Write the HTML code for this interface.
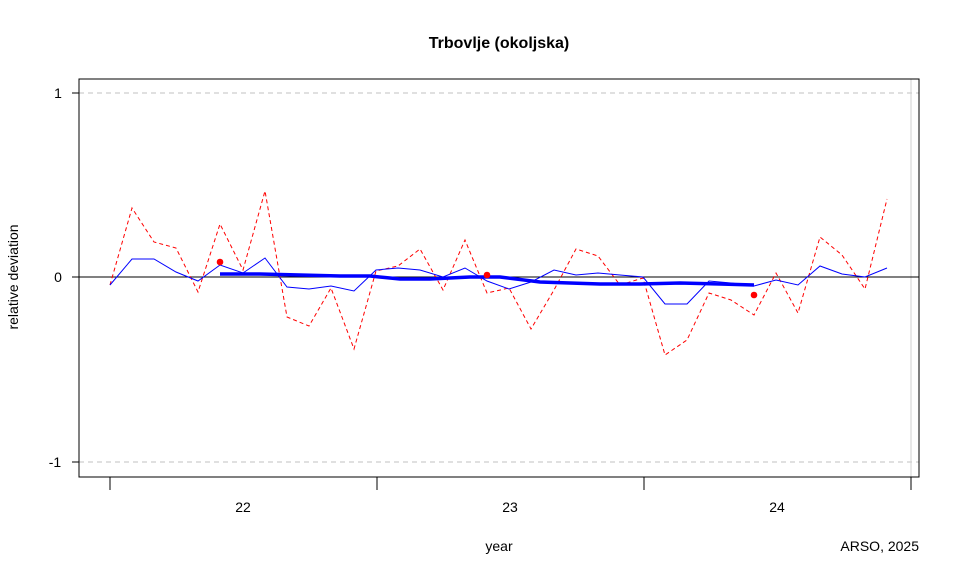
<!DOCTYPE html>
<html><head><meta charset="utf-8"><style>body{margin:0;background:#fff}svg{display:block}</style></head>
<body>
<svg width="960" height="575" xmlns="http://www.w3.org/2000/svg" font-family="Liberation Sans, sans-serif">
<rect width="960" height="575" fill="#fff"/>
<text x="499" y="48" font-size="16" font-weight="bold" text-anchor="middle">Trbovlje (okoljska)</text>
<line x1="79" y1="93" x2="919" y2="93" stroke="#c0c0c0" stroke-dasharray="5,4"/>
<line x1="79" y1="462" x2="919" y2="462" stroke="#c0c0c0" stroke-dasharray="5,4"/>
<line x1="911" y1="79" x2="911" y2="477" stroke="#d0d0d0"/>
<line x1="79" y1="277" x2="919" y2="277" stroke="#000"/>
<polyline fill="none" stroke="#f00" stroke-dasharray="4,3" points="110,285 132,208 154,242 176,248 198,292 220,224 243,270 265,191 287,317 309,326 331,288 354,349 376,271 398,266 420,249 443,290 465,240 487,293 509,288 531,329 554,290 576,249 598,256 620,285 643,278 665,355 687,340 709,293 731,300 754,315 776,273 798,313 820,237 842,255 865,289 887,199"/>
<polyline fill="none" stroke="#00f" points="110,285 132,259 154,259 176,272 198,281 220,265 243,273 265,258 287,287 309,289 331,286 354,291 376,270 398,268 420,270 443,277 465,268 487,281 509,289 531,282 554,270 576,275 598,273 620,275 643,277 665,304 687,304 709,281 731,283 754,286 776,280 798,285 820,266 842,274 865,277 887,268"/>
<polyline fill="none" stroke="#00f" stroke-width="3.5" points="220,274 260,274 300,275 340,276 370,276 400,279 430,279 470,277 500,277 540,282 600,284 640,284 680,283 720,284 754,285"/>
<circle cx="220" cy="262" r="3.3" fill="#f00"/>
<circle cx="487" cy="275" r="3.3" fill="#f00"/>
<circle cx="754" cy="295" r="3.3" fill="#f00"/>
<rect x="79" y="79" width="840" height="398" fill="none" stroke="#000"/>
<g stroke="#000"><line x1="79" y1="93" x2="72" y2="93"/><line x1="79" y1="277" x2="72" y2="277"/><line x1="79" y1="462" x2="72" y2="462"/>
<line x1="110" y1="477" x2="110" y2="490"/><line x1="377" y1="477" x2="377" y2="490"/><line x1="644" y1="477" x2="644" y2="490"/><line x1="911" y1="477" x2="911" y2="490"/></g>
<g font-size="14" text-anchor="middle">
<text x="58" y="98">1</text><text x="58" y="282">0</text><text x="55" y="467">-1</text>
<text x="243" y="512">22</text><text x="510" y="512">23</text><text x="777" y="512">24</text>
<text x="499" y="551">year</text>
<text x="919" y="551" text-anchor="end">ARSO, 2025</text>
<text transform="translate(18,277) rotate(-90)">relative deviation</text>
</g>
</svg>
</body></html>
